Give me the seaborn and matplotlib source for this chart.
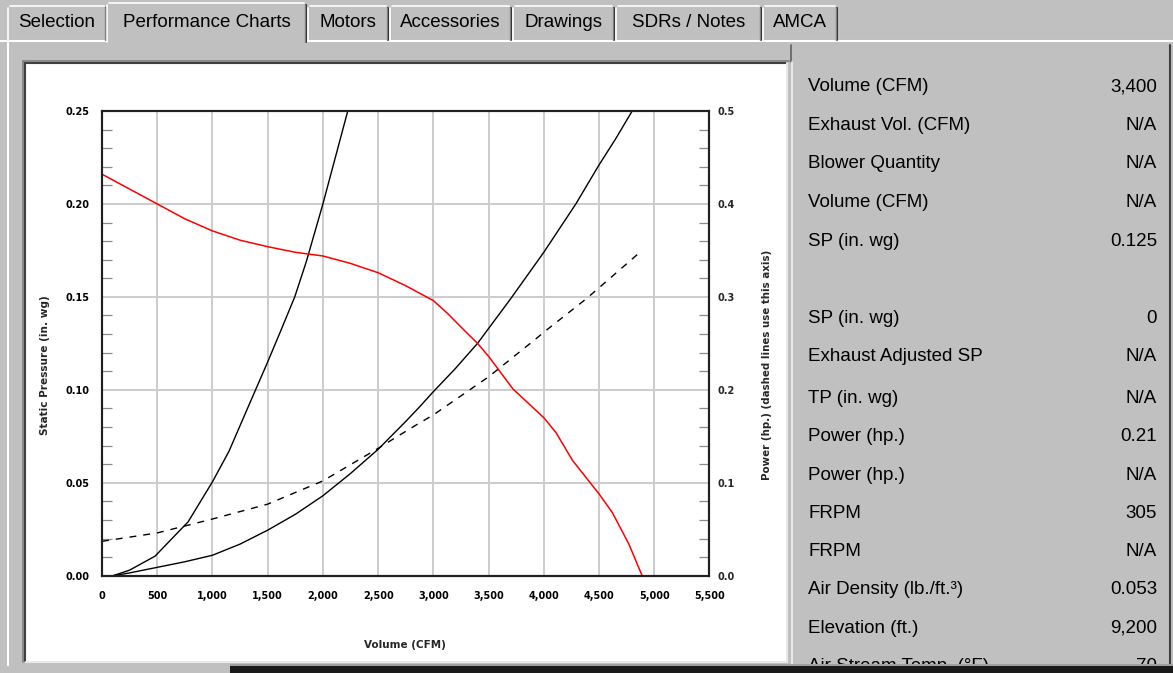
import numpy as np
import pandas as pd
import matplotlib
matplotlib.use("Agg")
import matplotlib.pyplot as plt
from matplotlib.patches import Rectangle
import seaborn as sns

# ---------------- data ----------------
tabs = ["Selection", "Performance Charts", "Motors", "Accessories", "Drawings", "SDRs / Notes", "AMCA"]

# fan static pressure curve (red, left axis)
fan_cfm = [0, 250, 500, 750, 1000, 1250, 1500, 1750, 2000, 2250, 2500, 2750, 3000, 3130,
           3280, 3400, 3500, 3720, 4000, 4110, 4260, 4500, 4620, 4770, 4890]
fan_sp = [0.216, 0.208, 0.200, 0.192, 0.1855, 0.1805, 0.177, 0.174, 0.172, 0.168, 0.163,
          0.156, 0.148, 0.141, 0.132, 0.125, 0.118, 0.1005, 0.085, 0.077, 0.062, 0.044,
          0.034, 0.017, 0.0]

# steep system curve (black, left axis)
sys1_cfm = [100, 250, 480, 780, 1000, 1150, 1310, 1500, 1620, 1745, 1850, 2000, 2090, 2225]
sys1_sp = [0.0, 0.003, 0.0105, 0.029, 0.0505, 0.067, 0.089, 0.115, 0.132, 0.150, 0.169,
           0.200, 0.220, 0.250]

# operating system curve (black, left axis)
sys2_cfm = [100, 250, 500, 750, 1000, 1250, 1500, 1750, 2000, 2250, 2500, 2750, 2870, 3000,
            3200, 3400, 3700, 4000, 4290, 4500, 4650, 4800]
sys2_sp = [0.0, 0.0015, 0.0045, 0.0075, 0.011, 0.017, 0.0245, 0.033, 0.043, 0.055, 0.068,
           0.083, 0.0905, 0.099, 0.1115, 0.125, 0.149, 0.174, 0.200, 0.221, 0.235, 0.250]

# power curve (dashed, right axis)
pow_cfm = [0, 500, 1000, 1500, 2000, 2500, 2690, 2870, 3000, 3500, 3930, 4000, 4390, 4880]
pow_hp = [0.037, 0.046, 0.061, 0.077, 0.102, 0.137, 0.151, 0.164, 0.173, 0.214, 0.255,
          0.262, 0.2985, 0.349]

x_ticks = [0, 500, 1000, 1500, 2000, 2500, 3000, 3500, 4000, 4500, 5000, 5500]
y_ticks = [0.00, 0.05, 0.10, 0.15, 0.20, 0.25]
y2_ticks = [0.0, 0.1, 0.2, 0.3, 0.4, 0.5]

info_labels = ["Volume (CFM)", "Exhaust Vol. (CFM)", "Blower Quantity", "Volume (CFM)", "SP (in. wg)",
               "", "SP (in. wg)", "Exhaust Adjusted SP", "TP (in. wg)", "Power (hp.)", "Power (hp.)",
               "FRPM", "FRPM", "Air Density (lb./ft.\u00b3)", "Elevation (ft.)", "Air Stream Temp. (\u00b0F)"]
info_values = ["3,400", "N/A", "N/A", "N/A", "0.125", "", "0", "N/A", "N/A", "0.21", "N/A",
               "305", "N/A", "0.053", "9,200", "70"]

# ---------------- style ----------------
sns.set_style("white")
plt.rcParams["font.family"] = ["Liberation Sans", "DejaVu Sans"]

W, H = 1173, 673
GRAY = "#c0c0c0"
fig = plt.figure(figsize=(W / 100, H / 100), dpi=100, facecolor=GRAY)

# background/chrome layer in pixel coordinates
bg = fig.add_axes([0, 0, 1, 1], zorder=0)
bg.set_xlim(0, W)
bg.set_ylim(H, 0)
bg.axis("off")
bg.set_facecolor(GRAY)

# panel highlight lines
bg.plot([0, 107], [41, 41], color="white", lw=1.5)
bg.plot([306, W], [41, 41], color="white", lw=1.5)
bg.plot([8, 8], [41, H], color="white", lw=1.5)

# tabs
tab_x = [(8, 106), (107, 306), (308, 388), (390, 511), (513, 614), (616, 761), (763, 837)]
for i, (name, (x0, x1)) in enumerate(zip(tabs, tab_x)):
    sel = (i == 1)
    top = 3 if sel else 6
    bottom = 42 if sel else 40
    bg.add_patch(Rectangle((x0, top), x1 - x0, bottom - top, facecolor=GRAY, edgecolor="none", zorder=1))
    bg.plot([x0, x0], [bottom, top + 2], color="white", lw=1.2, zorder=2)
    bg.plot([x0 + 2, x1 - 2], [top, top], color="white", lw=1.2, zorder=2)
    bg.plot([x1, x1], [top + 2, bottom], color="#202020", lw=1.4, zorder=2)
    bg.plot([x1 - 1.5, x1 - 1.5], [top + 2, bottom], color="#808080", lw=1.0, zorder=2)
    bg.text((x0 + x1) / 2, 22.5, name, ha="center", va="center", fontsize=13.5, color="black", zorder=3)

# white chart box
bg.add_patch(Rectangle((26, 64), 760, 597, facecolor="white", edgecolor="none", zorder=1))
bg.plot([25, 25], [661, 63], color="#404040", lw=1.5, zorder=2)
bg.plot([25, 787], [63, 63], color="#404040", lw=1.5, zorder=2)
bg.plot([23, 23], [662, 61], color="#808080", lw=1.2, zorder=2)
bg.plot([23, 789], [61, 61], color="#808080", lw=1.2, zorder=2)
bg.plot([26, 787], [662, 662], color="#e8e8e8", lw=1.5, zorder=2)
bg.plot([787, 787], [63, 662], color="#e8e8e8", lw=1.5, zorder=2)

# right-side panel borders
bg.plot([791, 791], [45, 62], color="#606060", lw=1.2, zorder=2)
bg.plot([792, 792], [62, H], color="#f0f0f0", lw=1.2, zorder=2)
bg.plot([1170, 1170], [45, H], color="#404040", lw=1.5, zorder=2)

# info panel text
row_y = [86.7, 125, 163.3, 202.7, 241.7, 280, 318.3, 356.7, 398.3, 436.7, 475, 513, 551.7, 590, 628.3, 666.5]
for lab, val, yy in zip(info_labels, info_values, row_y):
    if lab:
        bg.text(808, yy, lab, ha="left", va="center", fontsize=13.5, color="black", zorder=3)
    if val:
        bg.text(1157, yy, val, ha="right", va="center", fontsize=13.5, color="black", zorder=3)

# bottom cut-off band
bg.add_patch(Rectangle((0, 666), 230, 10, facecolor=GRAY, edgecolor="none", zorder=4))
bg.add_patch(Rectangle((230, 666), W - 230, 10, facecolor="#1a1a1a", edgecolor="none", zorder=4))
bg.add_patch(Rectangle((230, 664), W - 230, 2, facecolor="#a0a0a0", edgecolor="none", zorder=4))

# axis titles
bg.text(45, 365, "Static Pressure (in. wg)", rotation=90, ha="center", va="center",
        fontsize=7.6, fontweight="bold", family="DejaVu Sans", zorder=3)
bg.text(767, 364.5, "Power (hp.) (dashed lines use this axis)", rotation=90, ha="center", va="center",
        fontsize=7.4, fontweight="bold", family="DejaVu Sans", zorder=3)
bg.text(405, 645, "Volume (CFM)", ha="center", va="center",
        fontsize=7.5, fontweight="bold", family="DejaVu Sans", zorder=3)

# ---------------- chart ----------------
L, R, T, B = 102, 709.5, 111, 575.7
ax = fig.add_axes([L / W, (H - B) / H, (R - L) / W, (B - T) / H], zorder=2)
ax.set_facecolor("white")

df_fan = pd.DataFrame({"cfm": fan_cfm, "sp": fan_sp})
df_s1 = pd.DataFrame({"cfm": sys1_cfm, "sp": sys1_sp})
df_s2 = pd.DataFrame({"cfm": sys2_cfm, "sp": sys2_sp})
df_pw = pd.DataFrame({"cfm": pow_cfm, "hp": pow_hp})

sns.lineplot(data=df_s1, x="cfm", y="sp", ax=ax, color="black", lw=1.0, estimator=None)
sns.lineplot(data=df_s2, x="cfm", y="sp", ax=ax, color="black", lw=1.0, estimator=None)
sns.lineplot(data=df_fan, x="cfm", y="sp", ax=ax, color="#ff0000", lw=1.1, estimator=None)

ax.set_xlim(0, 5500)
ax.set_ylim(0, 0.25)
ax.set_xticks(x_ticks)
ax.set_xticklabels([f"{v:,}" for v in x_ticks])
ax.set_yticks(y_ticks)
ax.set_yticklabels([f"{v:.2f}" for v in y_ticks])
ax.set_xticks(np.arange(0, 5501, 100), minor=True)
ax.set_yticks(np.arange(0, 0.2501, 0.01), minor=True)
ax.grid(True, which="major", color="#cccccc", lw=1.4)
ax.set_axisbelow(True)
ax.set_xlabel("")
ax.set_ylabel("")
ax.tick_params(which="major", length=0)
ax.tick_params(axis="x", which="major", pad=11, labelsize=7, labelcolor="black")
ax.tick_params(axis="y", which="major", pad=9, labelsize=7, labelcolor="black")
ax.tick_params(which="minor", direction="in", length=7, width=0.9, color="#8a8a8a")
for lab in ax.get_xticklabels() + ax.get_yticklabels():
    lab.set_fontweight("bold")
    lab.set_family("DejaVu Sans")
for sp in ax.spines.values():
    sp.set_color("#202020")
    sp.set_linewidth(1.5)

ax2 = ax.twinx()
sns.lineplot(data=df_pw, x="cfm", y="hp", ax=ax2, color="black", lw=1.0,
             linestyle=(0, (5, 5)), estimator=None)
ax2.set_ylim(0, 0.5)
ax2.set_yticks(y2_ticks)
ax2.set_yticklabels([f"{v:.1f}" for v in y2_ticks])
ax2.set_yticks(np.arange(0, 0.501, 0.02), minor=True)
ax2.set_ylabel("")
ax2.grid(False)
ax2.tick_params(axis="y", which="major", length=0, pad=6, labelsize=7)
ax2.tick_params(axis="y", which="minor", direction="in", length=7, width=0.9, color="#8a8a8a")
for lab in ax2.get_yticklabels():
    lab.set_fontweight("bold")
    lab.set_family("DejaVu Sans")
for sp in ax2.spines.values():
    sp.set_color("#202020")
    sp.set_linewidth(1.5)

fig.savefig("out.png", dpi=100, facecolor=GRAY)
